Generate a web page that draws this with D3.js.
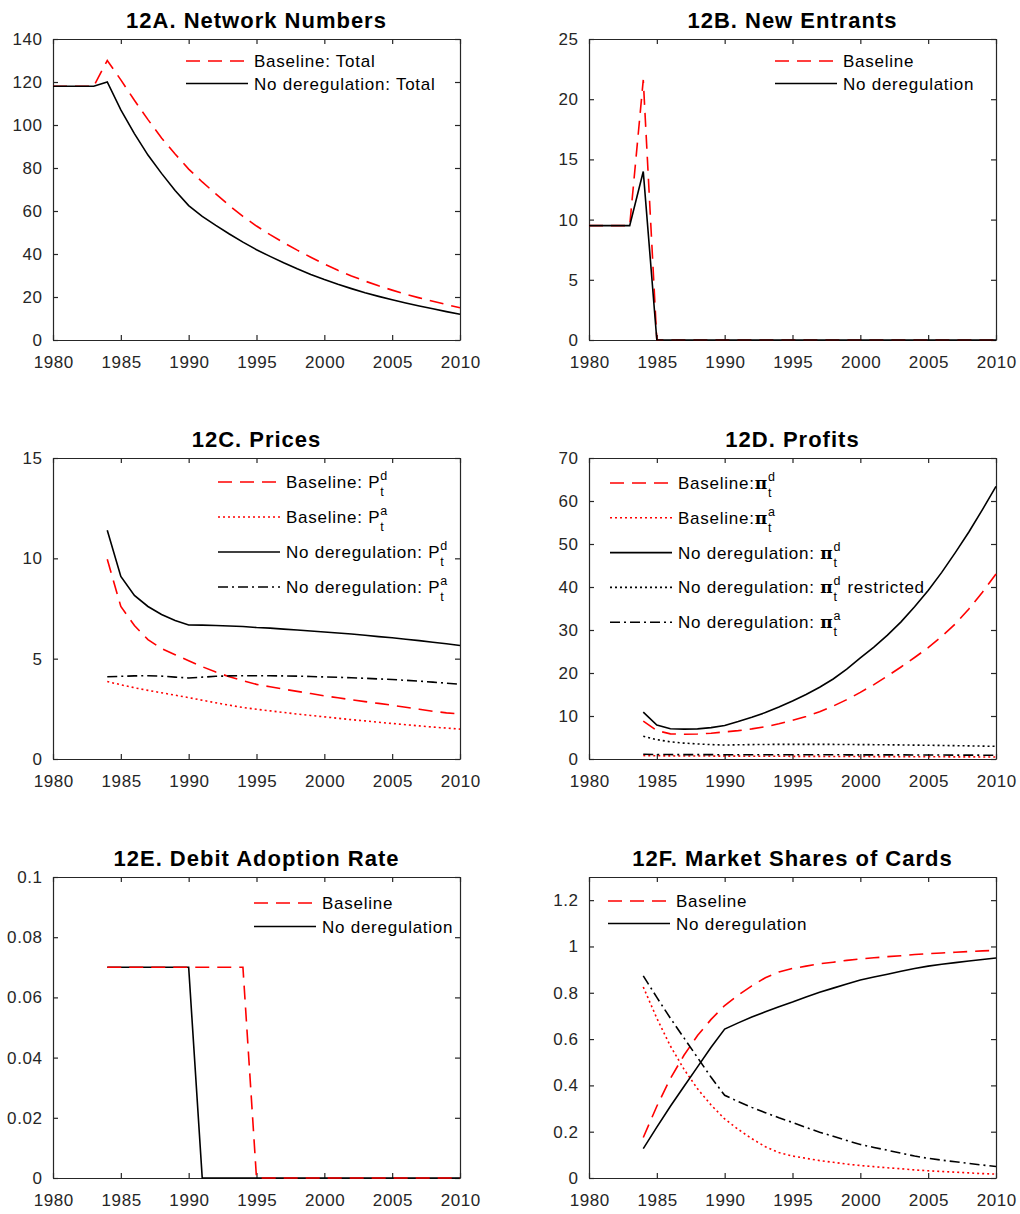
<!DOCTYPE html>
<html>
<head>
<meta charset="utf-8">
<script src="https://cdn.jsdelivr.net/npm/d3@7"></script>
<style>
  body { margin: 0; background: #fff; }
  text { font-family: "Liberation Sans", Arial, Helvetica, sans-serif; }
</style>
</head>
<body>
<div id="fig"></div>
<script>
// ---- data ----
var years = [1980, 1981, 1982, 1983, 1984, 1985, 1986, 1987, 1988, 1989, 1990,
  1991, 1992, 1993, 1994, 1995, 1996, 1997, 1998, 1999, 2000,
  2001, 2002, 2003, 2004, 2005, 2006, 2007, 2008, 2009, 2010];
var years84 = [1984, 1985, 1986, 1987, 1988, 1989, 1990,
  1991, 1992, 1993, 1994, 1995, 1996, 1997, 1998, 1999, 2000,
  2001, 2002, 2003, 2004, 2005, 2006, 2007, 2008, 2009, 2010];
var xTicks = [1980, 1985, 1990, 1995, 2000, 2005, 2010];

// 12A network numbers
var netBaseline = [118, 118, 118, 118, 130, 121, 111.5, 102.5, 94, 86.5, 79.5,
  73.5, 68, 62.5, 57.5, 53, 49, 45.3, 41.8, 38.5, 35.3,
  32.4, 29.8, 27.4, 25.2, 23.2, 21.3, 19.6, 18, 16.5, 15];
var netNoDereg = [118, 118, 118, 118, 120, 107, 96, 86, 77.5, 69.5, 62.5,
  57.5, 53.3, 49.3, 45.5, 42, 38.9, 35.9, 33.1, 30.5, 28.1,
  25.9, 23.9, 22, 20.3, 18.7, 17.2, 15.8, 14.5, 13.2, 12];

// 12B new entrants
var entBaseline = [9.5, 9.5, 9.5, 9.5, 21.6, 0, 0, 0, 0, 0, 0,
  0, 0, 0, 0, 0, 0, 0, 0, 0, 0, 0, 0, 0, 0, 0, 0, 0, 0, 0, 0];
var entNoDereg = [9.5, 9.5, 9.5, 9.5, 14, 0, 0, 0, 0, 0, 0,
  0, 0, 0, 0, 0, 0, 0, 0, 0, 0, 0, 0, 0, 0, 0, 0, 0, 0, 0, 0];

// 12C prices (from 1984)
var priceBaseD = [9.95, 7.6, 6.65, 5.95, 5.5, 5.2, 4.9, 4.6, 4.33, 4.1, 3.9, 3.72, 3.6, 3.48,
  3.37, 3.26, 3.15, 3.05, 2.95, 2.86, 2.77, 2.68, 2.58, 2.48, 2.38, 2.3, 2.24];
var priceBaseA = [3.86, 3.7, 3.55, 3.42, 3.3, 3.18, 3.06, 2.93, 2.8, 2.68, 2.57, 2.48, 2.4, 2.32,
  2.24, 2.17, 2.1, 2.03, 1.96, 1.9, 1.83, 1.77, 1.71, 1.65, 1.59, 1.54, 1.49];
var priceNoD = [11.4, 9.1, 8.15, 7.6, 7.2, 6.9, 6.68, 6.67, 6.65, 6.63, 6.6, 6.55, 6.52, 6.47,
  6.43, 6.38, 6.33, 6.28, 6.23, 6.17, 6.1, 6.04, 5.97, 5.9, 5.82, 5.74, 5.66];
var priceNoA = [4.1, 4.12, 4.14, 4.15, 4.13, 4.08, 4.04, 4.08, 4.12, 4.14, 4.15, 4.15, 4.15, 4.14,
  4.13, 4.11, 4.09, 4.07, 4.05, 4.02, 3.99, 3.96, 3.92, 3.88, 3.83, 3.78, 3.73];

// 12D profits (from 1984)
var profitBaseD = [8.8, 6.6, 5.85, 5.75, 5.8, 6.0, 6.3, 6.6, 7.0, 7.5, 8.2, 9.0, 9.9, 11.0,
  12.3, 13.8, 15.5, 17.3, 19.3, 21.4, 23.6, 25.9, 28.5, 31.4, 34.9, 38.8, 43.0];
var profitBaseA = [0.8, 0.75, 0.72, 0.7, 0.69, 0.68, 0.67, 0.66, 0.65, 0.64, 0.63, 0.62, 0.61, 0.6,
  0.59, 0.58, 0.57, 0.56, 0.55, 0.54, 0.53, 0.52, 0.51, 0.5, 0.49, 0.48, 0.47];
var profitNoD = [10.9, 7.9, 7.05, 6.95, 7.0, 7.3, 7.8, 8.7, 9.7, 10.8, 12.1, 13.5, 15.0, 16.7,
  18.6, 20.9, 23.5, 26.0, 28.8, 31.9, 35.4, 39.2, 43.4, 48.0, 52.8, 58.0, 63.4];
var profitNoDRestr = [5.3, 4.5, 4.0, 3.7, 3.5, 3.35, 3.25, 3.3, 3.35, 3.38, 3.4, 3.4, 3.4, 3.4,
  3.39, 3.37, 3.35, 3.33, 3.3, 3.27, 3.23, 3.2, 3.15, 3.1, 3.05, 3.0, 2.95];
var profitNoA = [1.1, 1.05, 1.03, 1.02, 1.02, 1.01, 1.0, 1.0, 1.0, 1.0, 1.0, 0.99, 0.99, 0.98,
  0.98, 0.97, 0.97, 0.96, 0.95, 0.95, 0.94, 0.93, 0.92, 0.91, 0.9, 0.89, 0.88];

// 12E debit adoption rate (from 1984)
var adoptBaseline = [0.07, 0.07, 0.07, 0.07, 0.07, 0.07, 0.07, 0.07, 0.07, 0.07, 0.07,
  0, 0, 0, 0, 0, 0, 0, 0, 0, 0, 0, 0, 0, 0, 0, 0];
var adoptNoDereg = [0.07, 0.07, 0.07, 0.07, 0.07, 0.07, 0.07,
  0, 0, 0, 0, 0, 0, 0, 0, 0, 0, 0, 0, 0, 0, 0, 0, 0, 0, 0, 0];

// 12F market shares (from 1984)
var shareBaseDebit = [0.175, 0.31, 0.43, 0.53, 0.615, 0.685, 0.745, 0.79, 0.83, 0.865, 0.89, 0.905,
  0.915, 0.925, 0.932, 0.94, 0.946, 0.951, 0.956, 0.96, 0.965, 0.969, 0.972, 0.975, 0.978, 0.981, 0.983];
var shareBaseCredit = [0.825, 0.69, 0.57, 0.47, 0.385, 0.315, 0.255, 0.21, 0.17, 0.135, 0.11, 0.095,
  0.085, 0.075, 0.068, 0.06, 0.054, 0.049, 0.044, 0.04, 0.035, 0.031, 0.028, 0.025, 0.022, 0.019, 0.017];
var shareNoDebit = [0.127, 0.22, 0.31, 0.395, 0.48, 0.565, 0.643, 0.67, 0.695, 0.718, 0.74, 0.76,
  0.782, 0.802, 0.82, 0.838, 0.855, 0.868, 0.88, 0.893, 0.905, 0.915, 0.923, 0.93, 0.937, 0.944, 0.95];
var shareNoCredit = [0.873, 0.78, 0.69, 0.605, 0.52, 0.435, 0.357, 0.33, 0.305, 0.282, 0.26, 0.24,
  0.218, 0.198, 0.18, 0.162, 0.145, 0.132, 0.12, 0.107, 0.095, 0.085, 0.077, 0.07, 0.063, 0.056, 0.05];

// ---- line styles ----
var redDash = { color: "#ff0000", dash: "14,8" };
var redDot = { color: "#ff0000", dash: "2,3" };
var blackSolid = { color: "#000000", dash: null };
var blackDot = { color: "#000000", dash: "2,3" };
var blackDashDot = { color: "#000000", dash: "10,4,2,4" };

var width = 1020;
var height = 1214;
var colX = [53, 589];
var rowY = [39, 458, 877];
var plotW = 407;
var plotH = 301;
var axisColor = "#262626";
var spacing = "0.75px"; // matlab's screen text runs a bit wide

var svg = d3.select("#fig")
  .append("svg")
  .attr("width", width)
  .attr("height", height)
  .style("background", "#fff");

var panels = [
  {
    title: "12A. Network Numbers", col: 0, row: 0, yMax: 140,
    yTicks: [0, 20, 40, 60, 80, 100, 120, 140],
    series: [
      { x: years, y: netBaseline, style: redDash },
      { x: years, y: netNoDereg, style: blackSolid }
    ],
    legend: { x: 133, y: 22, gap: 22.5, items: [
      { style: redDash, label: "Baseline: Total" },
      { style: blackSolid, label: "No deregulation: Total" }
    ] }
  },
  {
    title: "12B. New Entrants", col: 1, row: 0, yMax: 25,
    yTicks: [0, 5, 10, 15, 20, 25],
    series: [
      { x: years, y: entBaseline, style: redDash },
      { x: years, y: entNoDereg, style: blackSolid }
    ],
    legend: { x: 186, y: 22, gap: 22.5, items: [
      { style: redDash, label: "Baseline" },
      { style: blackSolid, label: "No deregulation" }
    ] }
  },
  {
    title: "12C. Prices", col: 0, row: 1, yMax: 15,
    yTicks: [0, 5, 10, 15],
    series: [
      { x: years84, y: priceBaseD, style: redDash },
      { x: years84, y: priceBaseA, style: redDot },
      { x: years84, y: priceNoD, style: blackSolid },
      { x: years84, y: priceNoA, style: blackDashDot }
    ],
    legend: { x: 165, y: 24, gap: 35, items: [
      { style: redDash, label: "Baseline: ", sym: "P", sup: "d", sub: "t" },
      { style: redDot, label: "Baseline: ", sym: "P", sup: "a", sub: "t" },
      { style: blackSolid, label: "No deregulation: ", sym: "P", sup: "d", sub: "t" },
      { style: blackDashDot, label: "No deregulation: ", sym: "P", sup: "a", sub: "t" }
    ] }
  },
  {
    title: "12D. Profits", col: 1, row: 1, yMax: 70,
    yTicks: [0, 10, 20, 30, 40, 50, 60, 70],
    series: [
      { x: years84, y: profitBaseD, style: redDash },
      { x: years84, y: profitBaseA, style: redDot },
      { x: years84, y: profitNoD, style: blackSolid },
      { x: years84, y: profitNoDRestr, style: blackDot },
      { x: years84, y: profitNoA, style: blackDashDot }
    ],
    legend: { x: 21, y: 25, gap: 34.8, items: [
      { style: redDash, label: "Baseline:", sym: "π", sup: "d", sub: "t" },
      { style: redDot, label: "Baseline:", sym: "π", sup: "a", sub: "t" },
      { style: blackSolid, label: "No deregulation: ", sym: "π", sup: "d", sub: "t" },
      { style: blackDot, label: "No deregulation: ", sym: "π", sup: "d", sub: "t", tail: "restricted" },
      { style: blackDashDot, label: "No deregulation: ", sym: "π", sup: "a", sub: "t" }
    ] }
  },
  {
    title: "12E. Debit Adoption Rate", col: 0, row: 2, yMax: 0.1,
    yTicks: [0, 0.02, 0.04, 0.06, 0.08, 0.1],
    series: [
      { x: years84, y: adoptNoDereg, style: blackSolid },
      { x: years84, y: adoptBaseline, style: redDash }
    ],
    legend: { x: 201, y: 26, gap: 23.5, items: [
      { style: redDash, label: "Baseline" },
      { style: blackSolid, label: "No deregulation" }
    ] }
  },
  {
    title: "12F. Market Shares of Cards", col: 1, row: 2, yMax: 1.3,
    yTicks: [0, 0.2, 0.4, 0.6, 0.8, 1, 1.2],
    series: [
      { x: years84, y: shareBaseDebit, style: redDash },
      { x: years84, y: shareBaseCredit, style: redDot },
      { x: years84, y: shareNoDebit, style: blackSolid },
      { x: years84, y: shareNoCredit, style: blackDashDot }
    ],
    legend: { x: 19, y: 24, gap: 22.5, items: [
      { style: redDash, label: "Baseline" },
      { style: blackSolid, label: "No deregulation" }
    ] }
  }
];

panels.forEach(drawPanel);

function applyStyle(sel, style) {
  sel.attr("fill", "none")
    .attr("stroke", style.color)
    .attr("stroke-width", 1.6);
  if (style.dash) sel.attr("stroke-dasharray", style.dash);
}

function drawPanel(p) {
  var g = svg.append("g")
    .attr("transform", "translate(" + colX[p.col] + "," + rowY[p.row] + ")");

  var x = d3.scaleLinear().domain([1980, 2010]).range([0, plotW]);
  var y = d3.scaleLinear().domain([0, p.yMax]).range([plotH, 0]);
  var fmt = function (d) { return String(d); };

  // axes with inward ticks on all four sides
  var left = g.append("g")
    .call(d3.axisLeft(y).tickValues(p.yTicks).tickFormat(fmt)
      .tickSizeInner(-5).tickSizeOuter(0).tickPadding(11));
  var right = g.append("g")
    .attr("transform", "translate(" + plotW + ",0)")
    .call(d3.axisRight(y).tickValues(p.yTicks).tickFormat("")
      .tickSizeInner(-5).tickSizeOuter(0));
  var bottom = g.append("g")
    .attr("transform", "translate(0," + plotH + ")")
    .call(d3.axisBottom(x).tickValues(xTicks).tickFormat(fmt)
      .tickSizeInner(-5).tickSizeOuter(0).tickPadding(16));
  var top = g.append("g")
    .call(d3.axisTop(x).tickValues(xTicks).tickFormat("")
      .tickSizeInner(-5).tickSizeOuter(0));

  [left, right, bottom, top].forEach(function (a) {
    a.selectAll("path, line").attr("stroke", axisColor).attr("stroke-width", 1.2);
    a.selectAll("text")
      .attr("fill", axisColor)
      .style("font-size", "17px")
      .style("letter-spacing", "0.6px")
      .style("font-family", "'Liberation Sans', Arial, sans-serif");
  });
  left.selectAll("text").attr("dx", "0.6px");
  bottom.selectAll("text").attr("dx", "0.3px");

  g.append("text")
    .attr("x", plotW / 2)
    .attr("y", -11)
    .attr("text-anchor", "middle")
    .style("font-size", "22px")
    .style("font-weight", "bold")
    .style("letter-spacing", "1px")
    .attr("fill", "#000")
    .text(p.title);

  var line = d3.line()
    .x(function (d) { return x(d[0]); })
    .y(function (d) { return y(d[1]); });

  p.series.forEach(function (s) {
    g.append("path")
      .datum(d3.zip(s.x, s.y))
      .attr("d", line)
      .call(applyStyle, s.style);
  });

  drawLegend(g, p.legend);
}

function drawLegend(g, lg) {
  lg.items.forEach(function (it, i) {
    var ly = lg.y + i * lg.gap;
    g.append("line")
      .attr("x1", lg.x).attr("x2", lg.x + 62)
      .attr("y1", ly).attr("y2", ly)
      .call(applyStyle, it.style);

    var tx = lg.x + 68;
    var t = g.append("text")
      .attr("x", tx)
      .attr("y", ly + 6)
      .attr("fill", "#000")
      .style("font-size", "17px")
      .style("letter-spacing", spacing);
    t.append("tspan").text(it.label);
    if (it.sym) {
      var s = t.append("tspan").text(it.sym);
      if (it.sym === "π") {
        s.style("font-family", "'DejaVu Serif', 'Liberation Serif', serif")
          .style("font-weight", "bold");
      }
    }
    var w = t.node().getComputedTextLength();
    if (it.sup) {
      var sup = g.append("text")
        .attr("x", tx + w).attr("y", ly - 2)
        .attr("fill", "#000").style("font-size", "12.5px")
        .text(it.sup);
      var sub = g.append("text")
        .attr("x", tx + w).attr("y", ly + 14)
        .attr("fill", "#000").style("font-size", "12.5px")
        .text(it.sub);
      var sw = Math.max(sup.node().getComputedTextLength(), sub.node().getComputedTextLength());
      if (it.tail) {
        g.append("text")
          .attr("x", tx + w + sw + 7).attr("y", ly + 6)
          .attr("fill", "#000").style("font-size", "17px")
          .style("letter-spacing", spacing)
          .text(it.tail);
      }
    }
  });
}
</script>
</body>
</html>
